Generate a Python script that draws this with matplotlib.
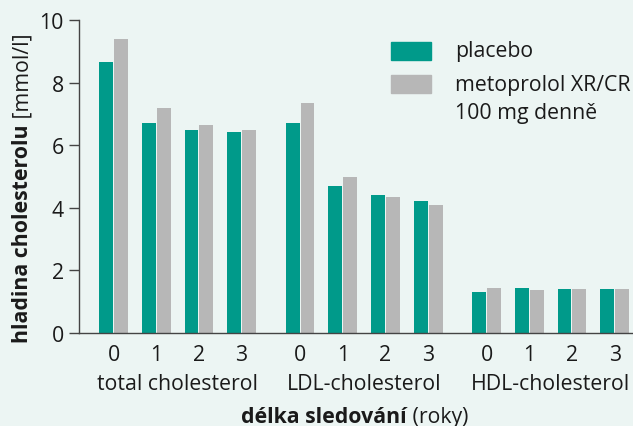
import matplotlib.pyplot as plt
from matplotlib.patches import Rectangle
import numpy as np

plt.rcParams['font.family'] = ['Open Sans', 'DejaVu Sans']

# values (mmol/l)
groups = ['total cholesterol', 'LDL-cholesterol', 'HDL-cholesterol']
years = ['0', '1', '2', '3']
placebo = [8.66, 6.71, 6.49, 6.42,
           6.71, 4.70, 4.41, 4.22,
           1.31, 1.44, 1.40, 1.40]
metoprolol = [9.39, 7.19, 6.65, 6.49,
              7.35, 4.98, 4.35, 4.09,
              1.44, 1.37, 1.40, 1.40]

bg = '#ecf5f3'
teal = '#009a8a'
grey = '#b7b7b7'
ink = '#1a1a1a'
fs = 15.3

fig = plt.figure(figsize=(6.33, 4.27), dpi=100, facecolor=bg)
ax = fig.add_axes([79 / 633, 93 / 427, 554 / 633, 313 / 427])
ax.set_facecolor(bg)

gstep = 4.37
x = np.array([g * gstep + i for g in range(len(groups)) for i in range(len(years))])
w = 0.325
ax.bar(x - 0.175, placebo, width=w, color=teal)
ax.bar(x + 0.175, metoprolol, width=w, color=grey)

ax.set_xlim(-0.81, 12.17)
ax.set_ylim(0, 10)
for s in ['top', 'right']:
    ax.spines[s].set_visible(False)
for s in ['left', 'bottom']:
    ax.spines[s].set_color('#444444')
    ax.spines[s].set_linewidth(1)

ax.set_yticks(range(0, 11, 2))
ax.tick_params(axis='y', length=7, width=1, color='#444444', pad=4,
               labelsize=fs, labelcolor=ink)
ax.set_xticks(x, years * len(groups))
ax.tick_params(axis='x', length=0, pad=8, labelsize=fs, labelcolor=ink)

for g, name in enumerate(groups):
    ax.annotate(name, xy=(g * gstep + 1.5, 0), xycoords=('data', 'axes fraction'),
                xytext=(0, -29), textcoords='offset points', ha='center', va='top',
                fontsize=fs, color=ink)

# axis titles with bold + regular parts
t1 = fig.text(241 / 633, 1 - 423 / 427, 'délka sledování', fontsize=fs, fontweight='bold',
              ha='left', va='baseline', color=ink)
ax.annotate(' (roky)', xy=(1, 0), xycoords=t1, ha='left', va='bottom', fontsize=fs,
            color=ink)

t2 = fig.text(12 / 633, 84 / 427, 'hladina cholesterolu', fontsize=fs, fontweight='bold',
              rotation=90, ha='left', va='bottom', color=ink)
ax.annotate(' [mmol/l]', xy=(0, 1), xycoords=t2, ha='left', va='bottom', fontsize=fs,
            rotation=90, color=ink)

# legend
fig.patches.append(Rectangle((391 / 633, 1 - 61 / 427), 40 / 633, 18 / 427,
                             transform=fig.transFigure, color=teal))
fig.patches.append(Rectangle((391 / 633, 1 - 94 / 427), 40 / 633, 18 / 427,
                             transform=fig.transFigure, color=grey))
fig.text(455 / 633, 1 - 52 / 427, 'placebo', fontsize=fs, va='center', ha='left', color=ink)
fig.text(455 / 633, 1 - 85 / 427, 'metoprolol XR/CR', fontsize=fs, va='center', ha='left',
         color=ink)
fig.text(455 / 633, 1 - 113 / 427, '100 mg denně', fontsize=fs, va='center', ha='left',
         color=ink)

fig.savefig('out.png', dpi=100, facecolor=bg)
